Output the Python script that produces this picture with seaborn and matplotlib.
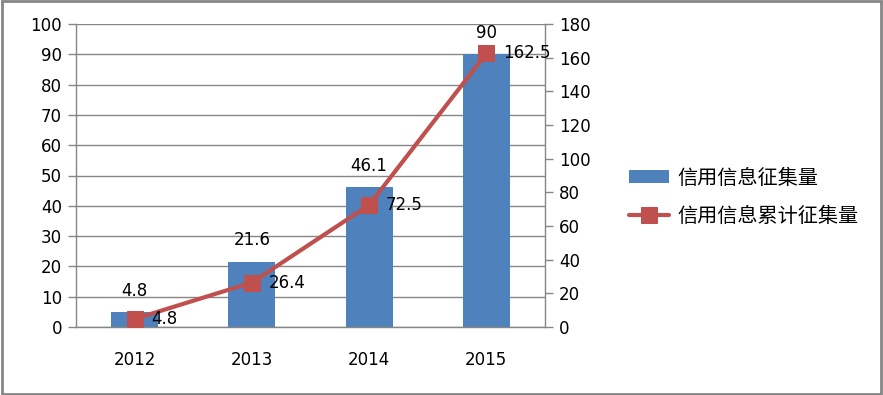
import matplotlib
matplotlib.use("Agg")
import matplotlib.pyplot as plt
import seaborn as sns
import numpy as np
import pandas as pd
from matplotlib.patches import Rectangle

years = ["2012", "2013", "2014", "2015"]
annual = [4.8, 21.6, 46.1, 90]
cumulative = [4.8, 26.4, 72.5, 162.5]
bar_label = "信用信息征集量"
line_label = "信用信息累计征集量"

sns.set_style("white")
plt.rcParams['font.family'] = ['DejaVu Sans', 'Noto Sans CJK SC']
plt.rcParams['text.color'] = 'black'
plt.rcParams['xtick.color'] = 'black'
plt.rcParams['ytick.color'] = 'black'

BLUE = "#4F81BD"
RED = "#C0504D"
GRID = "#868686"

fig = plt.figure(figsize=(8.83, 3.95), dpi=100)
ax = fig.add_axes([76/883, 1-327/395, (545-76)/883, (327-24)/395])

df = pd.DataFrame({"year": years, "annual": annual, "cumulative": cumulative})
sns.barplot(data=df, x="year", y="annual", color=BLUE, width=0.4, ax=ax,
            saturation=1, label=bar_label, linewidth=0)
ax.set_xlim(-0.5, 3.5)
ax.set_ylim(0, 100)
ax.set_yticks(np.arange(0, 101, 10))
ax.yaxis.grid(True, color=GRID, linewidth=1)
ax.set_axisbelow(True)
ax.set_xlabel("")
ax.set_ylabel("")

ax2 = ax.twinx()
xpos = np.arange(len(years))
sns.lineplot(x=xpos, y=cumulative, color=RED, linewidth=3, marker="s",
             markersize=11, markeredgecolor=RED, ax=ax2, label=line_label)
ax2.set_ylim(0, 180)
ax2.set_yticks(np.arange(0, 181, 20))
ax2.set_xlim(-0.5, 3.5)
ax2.set_ylabel("")

for a in (ax, ax2):
    for s in a.spines.values():
        s.set_visible(False)
ax.spines['left'].set_visible(True)
ax.spines['bottom'].set_visible(True)
ax2.spines['right'].set_visible(True)
for s in (ax.spines['left'], ax.spines['bottom'], ax2.spines['right']):
    s.set_color(GRID)
    s.set_linewidth(1)

ax.set_xticks(np.arange(-0.5, 4, 1), minor=False)
ax.set_xticklabels([])
ax.set_xticks(xpos, minor=True)
ax.set_xticklabels(years, minor=True)
ax.tick_params(axis='x', which='major', length=6, color=GRID, width=1, direction='out')
ax.tick_params(axis='x', which='minor', length=0, pad=17, labelsize=12)
ax.tick_params(axis='y', length=6, color=GRID, width=1, direction='out', labelsize=12, pad=4, left=True)
ax2.tick_params(axis='y', length=6, color=GRID, width=1, direction='out', labelsize=12, pad=4, right=True)

for i, v in enumerate(annual):
    ax.annotate(f"{v:g}", (i, v), xytext=(0, 9), textcoords="offset points",
                ha="center", va="bottom", fontsize=12)
for i, v in enumerate(cumulative):
    ax2.annotate(f"{v:g}", (i, v), xytext=(12, 0), textcoords="offset points",
                 ha="left", va="center", fontsize=12)

h1, l1 = ax.get_legend_handles_labels()
h2, l2 = ax2.get_legend_handles_labels()
if ax2.get_legend():
    ax2.get_legend().remove()
if ax.get_legend():
    ax.get_legend().remove()
leg = fig.legend(h1 + h2, l1 + l2, loc="center left", bbox_to_anchor=(0.692, 0.5),
                 frameon=False, prop={'family': ['Noto Sans CJK SC'], 'size': 14.5},
                 handlelength=2.0, handleheight=0.6, labelspacing=0.85, handletextpad=0.4)

fig.patches.append(Rectangle((0.002, 0.003), 0.996, 0.994, transform=fig.transFigure,
                             fill=False, edgecolor="#868686", linewidth=2))
fig.savefig("out.png", dpi=100)
